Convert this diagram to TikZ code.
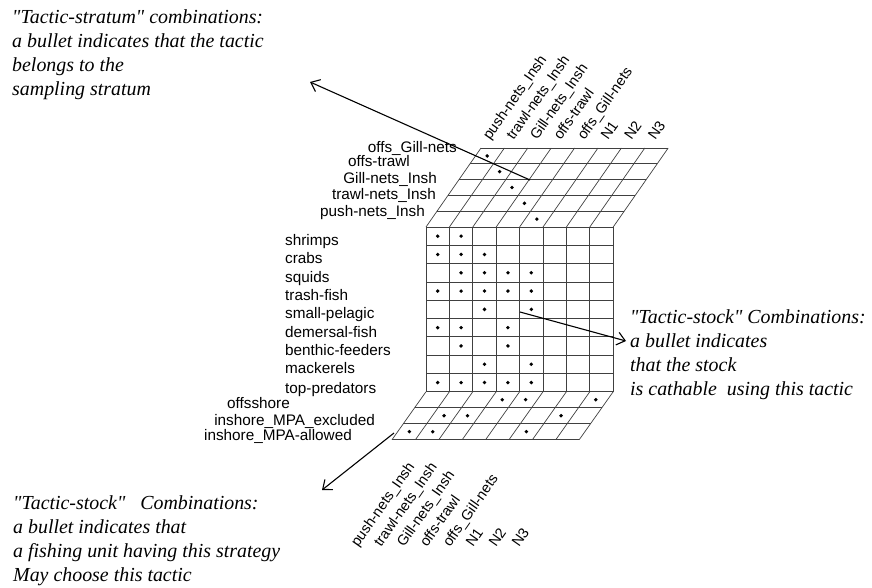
\documentclass[tikz,border=0pt]{standalone}
\usepackage{fontspec}
\setmainfont{Liberation Serif}
\setsansfont{Liberation Sans}
\usetikzlibrary{arrows.meta}

\newcommand{\lab}{\sffamily\fontsize{15.3}{18}\selectfont}
\newcommand{\rlab}{\sffamily\fontsize{14.5}{17}\selectfont}
\newcommand{\notefont}{\itshape\fontsize{19.9}{24.2}\selectfont}
\newcommand{\qq}{\textquotedbl}

\begin{document}
\begin{tikzpicture}[x=1pt, y=-1pt,
  cell/.style={draw=black!75, line width=0.7pt},
  bullet/.style={fill=black},
  rowlab/.style={font=\lab, inner sep=0pt, anchor=base east},
  stocklab/.style={font=\lab, inner sep=0pt, anchor=base west},
  collab/.style={font=\rlab, inner sep=0pt, anchor=base west, rotate=55},
  note/.style={font=\notefont, align=left, anchor=north west, inner sep=0pt},
  pointer/.style={line width=1.1pt, -{Straight Barb[length=8pt,width=13pt]}}]
\useasboundingbox (0,0) rectangle (872,587);

% front grid
\foreach \i in {0,...,8} \draw[cell] (426+23.4*\i,227) -- (426+23.4*\i,391.7);
\foreach \j in {0,...,9} \draw[cell] (426,227+18.3*\j) -- (613.2,227+18.3*\j);
% top sheet
\foreach \k in {1,...,5} \draw[cell] (426+11*\k,227-15.8*\k) -- (613.2+11*\k,227-15.8*\k);
\foreach \i in {0,...,8} \draw[cell] (426+23.4*\i,227) -- (481+23.4*\i,148);
% bottom sheet
\foreach \k in {1,...,3} \draw[cell] (426-11.33*\k,391.7+16*\k) -- (613.2-11.33*\k,391.7+16*\k);
\foreach \i in {0,...,8} \draw[cell] (426+23.4*\i,391.7) -- (392+23.4*\i,439.7);

% bullets
\foreach \k in {0,...,4} \fill[bullet] (481+12.4*\k+6.2,155.9+15.8*\k) circle[radius=1.9pt];
\foreach \r/\cols in {0/{0,1},1/{0,1,2},2/{1,2,3,4},3/{0,1,2,3,4},4/{2,4},5/{0,1,3},6/{1,3},7/{2,4},8/{0,1,2,3,4}}
  \foreach \c in \cols \fill[bullet] (437.7+23.4*\c,236.15+18.3*\r) circle[radius=1.9pt];
\foreach \r/\cols in {0/{3,4,7},1/{1,2,6},2/{0,1,5}}
  \foreach \c in \cols \fill[bullet] (426-11.33*\r-5.67+23.4*\c+11.7,399.7+16*\r) circle[radius=1.9pt];

% labels
\foreach \t/\x/\y [count=\n] in {offs\_Gill-nets/457/152, offs-trawl/410/166, Gill-nets\_Insh/437/183, trawl-nets\_Insh/436/199, push-nets\_Insh/425/216}
  \draw (\x,\y) node (stratum\n) [rowlab] {\t};
\foreach \t/\y [count=\n] in {shrimps/245, crabs/263, squids/282, trash-fish/300, small-pelagic/318, demersal-fish/337, benthic-feeders/355, mackerels/373, top-predators/393}
  \draw (285,\y) node (stock\n) [stocklab] {\t};
\foreach \t/\x/\y [count=\n] in {offsshore/290/408, inshore\_MPA\_excluded/375/425, inshore\_MPA-allowed/352/440}
  \draw (\x,\y) node (strategy\n) [rowlab] {\t};
\foreach \t [count=\n from 0] in {push-nets\_Insh, trawl-nets\_Insh, Gill-nets\_Insh, offs-trawl, offs\_Gill-nets, N1, N2, N3} {
  \draw (490+23.6*\n,141) node (tactictop\n) [collab] {\t};
  \draw (358+23*\n,548) node (tacticbot\n) [collab] {\t};
}

% notes
\draw (12,9) node (stratumnote) [note] {\qq Tactic-stratum\qq{} combinations:\\a bullet indicates that the tactic\\belongs to the\\sampling stratum};
\draw (630,309) node (stocknote) [note] {\qq Tactic-stock\qq{} Combinations:\\a bullet indicates\\that the stock\\is cathable\ \ using this tactic};
\draw (13,495) node (strategynote) [note] {\qq Tactic-stock\qq\ \ \ Combinations:\\a bullet indicates that\\a fishing unit having this strategy\\May choose this tactic};

% arrows
\coordinate (stratumcell) at (530,180);
\coordinate (stratumtip) at (310,82);
\coordinate (stockcell) at (520,312);
\coordinate (stocktip) at (626,341);
\coordinate (strategycell) at (394,433);
\coordinate (strategytip) at (322,490);
\draw[pointer] (stratumcell) -- (stratumtip);
\draw[pointer] (stockcell) -- (stocktip);
\draw[pointer] (strategycell) -- (strategytip);
\end{tikzpicture}
\end{document}
